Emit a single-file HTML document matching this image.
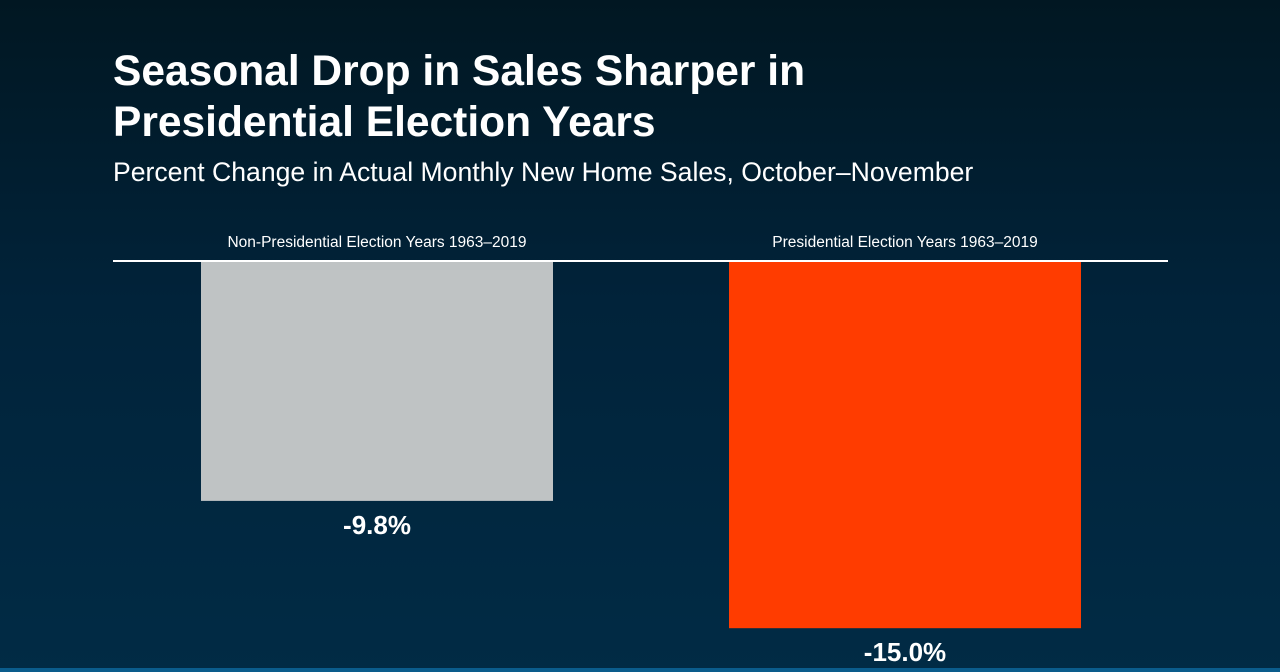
<!DOCTYPE html>
<html><head><meta charset="utf-8"><style>
html,body{margin:0;padding:0}
body{width:1280px;height:672px;overflow:hidden;position:relative;background:linear-gradient(180deg,#011722 0%,#01233a 45%,#012b45 100%);font-family:"Liberation Sans",Arial,sans-serif;color:#fff}
#title{position:absolute;left:113px;top:46px;font-size:42.5px;font-weight:bold;line-height:51px;margin:0}
#sub{position:absolute;left:113px;top:156px;font-size:26.6px;line-height:32px}
#strip{position:absolute;left:0;top:668px;width:1280px;height:4px;background:#0a5c8c}
svg{position:absolute;left:0;top:0}
</style></head><body>
<h1 id="title">Seasonal Drop in Sales Sharper in<br>Presidential Election Years</h1>
<div id="sub">Percent Change in Actual Monthly New Home Sales, October–November</div>
<svg id="chart" width="1280" height="672"></svg>
<div id="strip"></div>
<script>
const categories=["Non-Presidential Election Years 1963–2019","Presidential Election Years 1963–2019"];
const values=[-9.8,-15.0];
const labels=["-9.8%","-15.0%"];
const colors=["#bfc3c4","#ff3c00"];
const svg=document.getElementById('chart');
const NS='http://www.w3.org/2000/svg';
const baseY=261, pxPer=24.48;
const y=v=>baseY-v*pxPer;
const bandX=i=>201+i*528, bw=352;
function mk(t,a){const e=document.createElementNS(NS,t);for(const k in a)e.setAttribute(k,a[k]);svg.appendChild(e);return e;}
categories.forEach((c,i)=>{
 const x=bandX(i);
 const r=mk('rect',{x:x,y:baseY,width:bw,height:y(values[i])-baseY,fill:colors[i]});
 
 
 const t=mk('text',{x:x+bw/2,y:247,'text-anchor':'middle','font-size':15.5,fill:'#fff','font-family':'Liberation Sans, sans-serif'});
 t.textContent=c;
 
 
 const v=mk('text',{x:x+bw/2,y:y(values[i])+33,'text-anchor':'middle','font-size':26,'font-weight':'bold',fill:'#fff','font-family':'Liberation Sans, sans-serif'});
 v.textContent=labels[i];
 
 
});
const ax=mk('line',{x1:113,x2:1168,y1:baseY,y2:baseY,stroke:'#fff','stroke-width':2});


</script>
</body></html>
